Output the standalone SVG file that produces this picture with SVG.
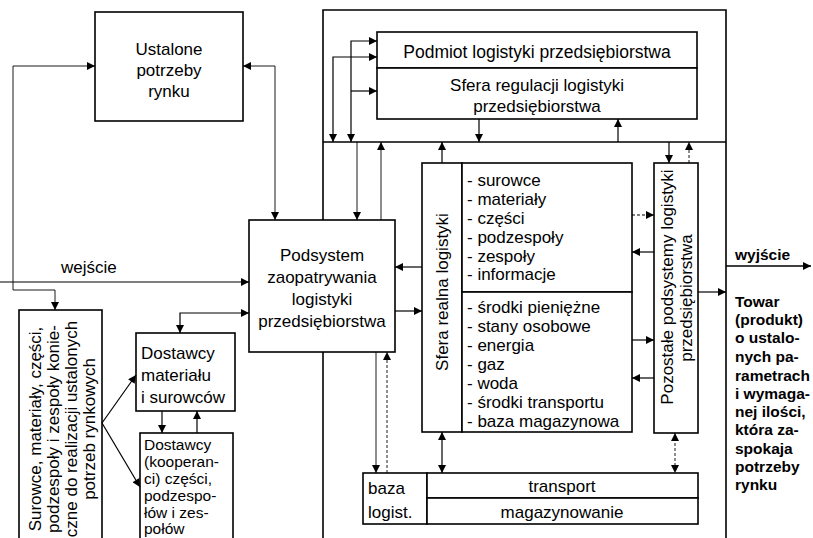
<svg xmlns="http://www.w3.org/2000/svg" width="813" height="538" viewBox="0 0 813 538">
<defs>
<marker id="a" viewBox="0 0 10 10" refX="10" refY="5" markerWidth="10" markerHeight="8" markerUnits="userSpaceOnUse" orient="auto-start-reverse"><path d="M0,0 L10,5 L0,10 z" fill="#000"/></marker>
<style>
.b{fill:#fff;stroke:#000;stroke-width:1.6}
.l{fill:none;stroke:#000;stroke-width:1.6}
.c{fill:none;stroke:#000;stroke-width:1.2}
.t{stroke-width:0.9}
.d{stroke-dasharray:3 2}
text{font-family:"Liberation Sans",Arial,sans-serif;font-size:17px;fill:#000}
.m{text-anchor:middle}
.v{text-anchor:middle;dominant-baseline:central}
.bo{font-weight:bold;font-size:15.5px}
.s{font-size:15.5px}
</style>
</defs>
<rect width="813" height="538" fill="#fff"/>
<g id="frame">
<path class="l" d="M323,220 V10 H726 V538"/>
<path class="l" d="M323,142 H726"/>
<path class="l" d="M323,352 V538"/>
</g>
<g id="ustalone">
<rect class="b" x="95" y="12" width="148" height="109"/>
<text class="m" x="169" y="55">Ustalone</text>
<text class="m" x="169" y="76">potrzeby</text>
<text class="m" x="169" y="97">rynku</text>
</g>
<g id="podmiot">
<rect class="b" x="377" y="32" width="320" height="36"/>
<text class="m" x="537" y="58" style="font-size:17.5px">Podmiot logistyki przedsiębiorstwa</text>
</g>
<g id="sfera-regulacji">
<rect class="b" x="377" y="68" width="320" height="51"/>
<text class="m" x="537" y="91">Sfera regulacji logistyki</text>
<text class="m" x="537" y="112">przedsiębiorstwa</text>
</g>
<g id="podsystem">
<rect class="b" x="249" y="220" width="146" height="132"/>
<text class="m" x="322" y="261">Podsystem</text>
<text class="m" x="322" y="283">zaopatrywania</text>
<text class="m" x="322" y="305">logistyki</text>
<text class="m" x="322" y="327">przedsiębiorstwa</text>
</g>
<g id="sfera-realna">
<rect class="b" x="422" y="163" width="40" height="269"/>
<text class="v" transform="translate(442,292) rotate(-90)">Sfera realna logistyki</text>
</g>
<g id="lista-gorna">
<rect class="b" x="462" y="163" width="170" height="129"/>
<text x="467" y="186">- surowce</text>
<text x="467" y="205">- materiały</text>
<text x="467" y="224">- części</text>
<text x="467" y="243">- podzespoły</text>
<text x="467" y="262">- zespoły</text>
<text x="467" y="280">- informacje</text>
</g>
<g id="lista-dolna">
<rect class="b" x="462" y="292" width="170" height="140"/>
<text x="467" y="313">- środki pieniężne</text>
<text x="467" y="332">- stany osobowe</text>
<text x="467" y="351">- energia</text>
<text x="467" y="370">- gaz</text>
<text x="467" y="389">- woda</text>
<text x="467" y="408">- środki transportu</text>
<text x="467" y="427">- baza magazynowa</text>
</g>
<g id="pozostale">
<rect class="b" x="654" y="163" width="44" height="270"/>
<text class="v" transform="translate(667,287) rotate(-90)">Pozostałe podsystemy logistyki</text>
<text class="v" transform="translate(686,298) rotate(-90)">przedsiębiorstwa</text>
</g>
<g id="baza">
<rect class="b" x="363" y="473" width="64" height="51"/>
<text x="368" y="494">baza</text>
<text x="368" y="518">logist.</text>
</g>
<g id="transport">
<rect class="b" x="427" y="473" width="271" height="25"/>
<text class="m" x="562" y="492">transport</text>
</g>
<g id="magazynowanie">
<rect class="b" x="427" y="498" width="271" height="26"/>
<text class="m" x="562" y="518">magazynowanie</text>
</g>
<g id="surowce">
<rect class="b" x="19" y="310" width="83" height="235"/>
<text class="v" transform="translate(35,429) rotate(-90)">Surowce, materiały, części,</text>
<text class="v" transform="translate(53,429) rotate(-90)">podzespoły i zespoły konie-</text>
<text class="v" transform="translate(71,429) rotate(-90)">czne do realizacji ustalonych</text>
<text class="v" transform="translate(89,429) rotate(-90)">potrzeb rynkowych</text>
</g>
<g id="dostawcy-materialu">
<rect class="b" x="136" y="333" width="99" height="78"/>
<text x="141" y="359">Dostawcy</text>
<text x="141" y="381">materiału</text>
<text x="141" y="403">i surowców</text>
</g>
<g id="dostawcy-kooperanci">
<rect class="b" x="140" y="433" width="93" height="112"/>
<text class="s" x="144" y="450">Dostawcy</text>
<text class="s" x="144" y="467">(kooperan-</text>
<text class="s" x="144" y="484">ci) części,</text>
<text class="s" x="144" y="501">podzespo-</text>
<text class="s" x="144" y="518">łów i zes-</text>
<text class="s" x="144" y="534">połów</text>
</g>
<g id="wyjscie-opis">
<text class="bo" x="735" y="260">wyjście</text>
<text class="bo" x="735" y="307">Towar</text>
<text class="bo" x="735" y="325">(produkt)</text>
<text class="bo" x="735" y="343">o ustalo-</text>
<text class="bo" x="735" y="362">nych pa-</text>
<text class="bo" x="735" y="381">rametrach</text>
<text class="bo" x="735" y="399">i wymaga-</text>
<text class="bo" x="735" y="417">nej ilości,</text>
<text class="bo" x="735" y="435">która za-</text>
<text class="bo" x="735" y="454">spokaja</text>
<text class="bo" x="735" y="472">potrzeby</text>
<text class="bo" x="735" y="490">rynku</text>
</g>
<text x="61" y="273">wejście</text>
<g id="connectors">
<path class="c t" d="M95,66 H13 V290 H55 V310" marker-start="url(#a)" marker-end="url(#a)"/>
<path class="c t" d="M243,66 H275 V220" marker-start="url(#a)" marker-end="url(#a)"/>
<path class="c" d="M351,142 V41 H377" marker-start="url(#a)" marker-end="url(#a)"/>
<path class="c" d="M351,91 H377" marker-end="url(#a)"/>
<path class="c" d="M333,142 V57 H377" marker-start="url(#a)" marker-end="url(#a)"/>
<path class="c" d="M479,119 V142" marker-end="url(#a)"/>
<path class="c" d="M618,142 V119" marker-end="url(#a)"/>
<path class="c t" d="M381,220 V142" marker-end="url(#a)"/>
<path class="c t" d="M357,142 V220" marker-end="url(#a)"/>
<path class="c" d="M442,163 V142" marker-end="url(#a)"/>
<path class="c" d="M669,142 V163" marker-end="url(#a)"/>
<path class="c t d" d="M689,163 V142" marker-end="url(#a)"/>
<path class="c" d="M422,267 H395" marker-end="url(#a)"/>
<path class="c" d="M395,311 H422" marker-end="url(#a)"/>
<path class="c d" d="M632,215 H654" marker-end="url(#a)"/>
<path class="c" d="M654,252 H632" marker-end="url(#a)"/>
<path class="c" d="M632,340 H654" marker-end="url(#a)"/>
<path class="c" d="M654,378 H632" marker-end="url(#a)"/>
<path class="c" d="M698,292 H726" marker-end="url(#a)"/>
<path class="l" d="M726,266 H811" marker-end="url(#a)"/>
<path class="c" d="M0,282 H249" marker-end="url(#a)"/>
<path class="c" d="M180,333 V313 H249" marker-start="url(#a)" marker-end="url(#a)"/>
<path class="c" d="M162,411 V433" marker-end="url(#a)"/>
<path class="c" d="M197,433 V411" marker-end="url(#a)"/>
<path class="c" d="M102,423 L136,375" marker-end="url(#a)"/>
<path class="c" d="M102,423 L140,487" marker-end="url(#a)"/>
<path class="c t" d="M376,352 V473" marker-end="url(#a)"/>
<path class="c t d" d="M387,473 V352" marker-end="url(#a)"/>
<path class="c" d="M442,432 V473" marker-start="url(#a)" marker-end="url(#a)"/>
<path class="c t d" d="M675,433 V473" marker-start="url(#a)" marker-end="url(#a)"/>
</g>
</svg>
